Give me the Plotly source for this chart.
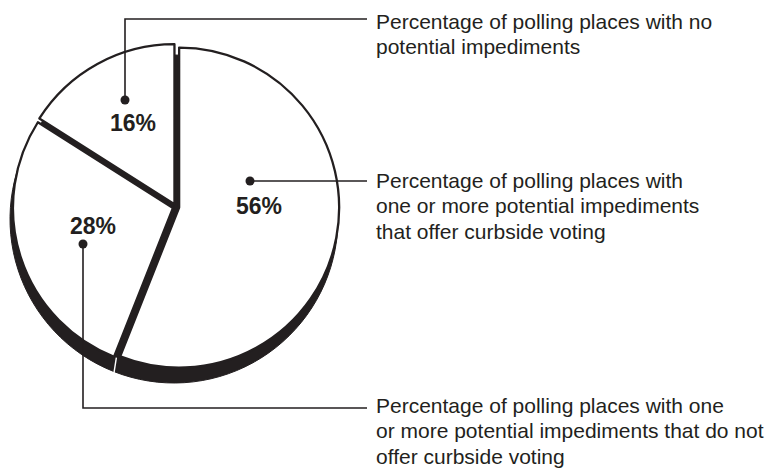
import math
import plotly.graph_objects as go

# ---- data ----
categories = [
    "one or more potential impediments that offer curbside voting",
    "one or more potential impediments that do not offer curbside voting",
    "no potential impediments",
]
values = [56, 28, 16]
pct_labels = ["56%", "28%", "16%"]
desc_lines = [
    ["Percentage of polling places with", "one or more potential impediments", "that offer curbside voting"],
    ["Percentage of polling places with one", "or more potential impediments that do not", "offer curbside voting"],
    ["Percentage of polling places with no", "potential impediments"],
]

# ---- styling / layout positions (pixel space: 775 x 468, y down) ----
W, H = 775, 468
INK = "#231f20"
FONT = "Liberation Sans, Arial, Helvetica, sans-serif"

def px_domain(cx, cy, half):
    return dict(x=[(cx - half) / W, (cx + half) / W],
                y=[1 - (cy + half) / H, 1 - (cy - half) / H])

PULL = 0.02
R_TOP = 160
TOP_C = (176, 207)
fig = go.Figure()

# shadow / depth pie (black, offset downward)
fig.add_trace(go.Pie(
    values=values, labels=categories, sort=False, direction="clockwise", rotation=0,
    marker=dict(colors=[INK] * 3, line=dict(color=INK, width=1)),
    textinfo="none", hoverinfo="skip", showlegend=False,
    domain=px_domain(174, 219, 164),
))
# top white pie, slightly exploded
fig.add_trace(go.Pie(
    values=values, labels=categories, sort=False, direction="clockwise", rotation=0,
    pull=[PULL] * 3,
    marker=dict(colors=["white"] * 3, line=dict(color=INK, width=2.3)),
    textinfo="none", hoverinfo="skip", showlegend=False,
    domain=px_domain(TOP_C[0], TOP_C[1], R_TOP * (1 + PULL)),
))

# thin white split in the depth band at the boundary between the first two slices
ang = math.radians(360 * values[0] / sum(values))
dx, dy = math.sin(ang), -math.cos(ang)
r0, r1 = R_TOP + 2, R_TOP + 20
fig.add_shape(type="line", xref="x", yref="y", layer="above",
              x0=TOP_C[0] + r0 * dx, y0=TOP_C[1] + r0 * dy,
              x1=TOP_C[0] + r1 * dx + 4, y1=TOP_C[1] + r1 * dy,
              line=dict(color="white", width=1.4))

# label geometry (pixel positions) for each slice, in order of `values`
pct_pos = [(259, 206), (93, 226), (133, 123)]
dot_pos = [(250, 181), (83, 244), (125, 100)]
leader_paths = [
    [(250, 181), (367, 181)],
    [(83, 244), (83, 408), (367, 408)],
    [(125, 100), (125, 19), (367, 19)],
]
text_x = 374
text_y0 = [180, 405, 21]
LINE_H = 25.5
DOT_R = 4.5

for i in range(len(values)):
    pts = leader_paths[i]
    path = "M " + " L ".join("%g,%g" % p for p in pts)
    fig.add_shape(type="path", path=path, xref="x", yref="y", layer="above",
                  line=dict(color=INK, width=1.6))
    cx, cy = dot_pos[i]
    fig.add_shape(type="circle", xref="x", yref="y", layer="above",
                  x0=cx - DOT_R, x1=cx + DOT_R, y0=cy - DOT_R, y1=cy + DOT_R,
                  fillcolor=INK, line=dict(color=INK, width=0))
    fig.add_annotation(x=pct_pos[i][0], y=pct_pos[i][1], text="<b>%s</b>" % pct_labels[i],
                       showarrow=False, xanchor="center", yanchor="middle",
                       font=dict(family=FONT, size=23, color=INK))
    for j, line in enumerate(desc_lines[i]):
        fig.add_annotation(x=text_x, y=text_y0[i] + j * LINE_H, text=line, showarrow=False,
                           xanchor="left", yanchor="middle",
                           font=dict(family=FONT, size=21, color=INK))

fig.update_layout(
    width=W, height=H, margin=dict(l=0, r=0, t=0, b=0),
    paper_bgcolor="white", plot_bgcolor="rgba(0,0,0,0)",
    xaxis=dict(range=[0, W], visible=False, fixedrange=True),
    yaxis=dict(range=[H, 0], visible=False, fixedrange=True),
    showlegend=False,
)

fig.write_html("out.html", config={"displayModeBar": False},
               post_script="document.body.style.margin='0';")
